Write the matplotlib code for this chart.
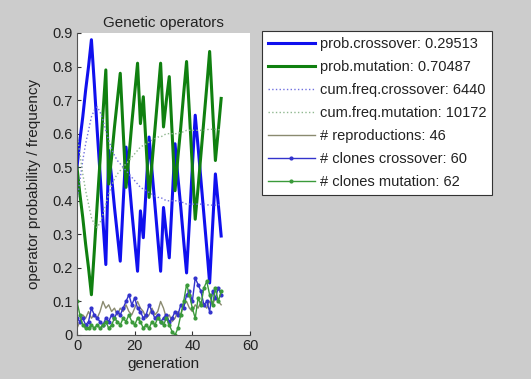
import matplotlib
matplotlib.use("Agg")
import matplotlib.pyplot as plt

generations = list(range(51))

prob_crossover = [0.50, 0.58, 0.65, 0.73, 0.80, 0.88, 0.75, 0.61, 0.48, 0.34,
                  0.21, 0.55, 0.47, 0.38, 0.30, 0.22, 0.39, 0.56, 0.47, 0.37,
                  0.28, 0.19, 0.37, 0.29, 0.44, 0.59, 0.49, 0.39, 0.29, 0.19,
                  0.38, 0.30, 0.23, 0.40, 0.57, 0.47, 0.38, 0.28, 0.185, 0.34,
                  0.50, 0.655, 0.56, 0.46, 0.36, 0.26, 0.155, 0.32, 0.48, 0.39,
                  0.295]
prob_mutation = [0.50, 0.42, 0.35, 0.27, 0.20, 0.12, 0.25, 0.39, 0.52, 0.66,
                 0.79, 0.45, 0.53, 0.62, 0.70, 0.78, 0.61, 0.44, 0.53, 0.63,
                 0.72, 0.81, 0.63, 0.71, 0.56, 0.41, 0.51, 0.61, 0.71, 0.81,
                 0.62, 0.70, 0.77, 0.60, 0.43, 0.53, 0.62, 0.72, 0.815, 0.66,
                 0.50, 0.345, 0.44, 0.54, 0.64, 0.74, 0.845, 0.68, 0.52, 0.61,
                 0.705]
cum_freq_crossover = [0.40, 0.46, 0.52, 0.57, 0.61, 0.65, 0.67, 0.68, 0.665, 0.64,
                      0.61, 0.58, 0.555, 0.535, 0.52, 0.51, 0.50, 0.49, 0.48, 0.47,
                      0.46, 0.45, 0.44, 0.435, 0.43, 0.425, 0.42, 0.415, 0.41, 0.41,
                      0.405, 0.40, 0.40, 0.40, 0.40, 0.40, 0.395, 0.395, 0.39, 0.39,
                      0.39, 0.39, 0.39, 0.39, 0.39, 0.388, 0.387, 0.387, 0.387, 0.388,
                      0.388]
cum_freq_mutation = [0.60, 0.54, 0.48, 0.43, 0.39, 0.35, 0.33, 0.32, 0.335, 0.36,
                     0.39, 0.42, 0.445, 0.465, 0.48, 0.49, 0.50, 0.51, 0.52, 0.53,
                     0.54, 0.55, 0.56, 0.565, 0.57, 0.575, 0.58, 0.585, 0.59, 0.59,
                     0.595, 0.60, 0.60, 0.60, 0.60, 0.60, 0.605, 0.605, 0.61, 0.61,
                     0.61, 0.61, 0.61, 0.61, 0.61, 0.612, 0.613, 0.613, 0.613, 0.612,
                     0.612]
reproductions = [0.02, 0.04, 0.06, 0.05, 0.07, 0.05, 0.06, 0.05, 0.07, 0.10,
                 0.08, 0.09, 0.07, 0.08, 0.06, 0.08, 0.07, 0.09, 0.07, 0.06,
                 0.08, 0.10, 0.08, 0.07, 0.05, 0.06, 0.08, 0.06, 0.07, 0.10,
                 0.08, 0.05, 0.06, 0.04, 0.05, 0.07, 0.06, 0.09, 0.10, 0.08,
                 0.07, 0.09, 0.08, 0.10, 0.09, 0.08, 0.10, 0.09, 0.11, 0.10,
                 0.09]
clones_crossover = [0.05, 0.04, 0.05, 0.03, 0.04, 0.08, 0.06, 0.05, 0.04, 0.03,
                    0.05, 0.04, 0.06, 0.05, 0.07, 0.06, 0.08, 0.10, 0.12, 0.09,
                    0.11, 0.08, 0.07, 0.05, 0.06, 0.09, 0.07, 0.05, 0.06, 0.04,
                    0.05, 0.06, 0.04, 0.05, 0.07, 0.06, 0.09, 0.08, 0.12, 0.13,
                    0.10, 0.17, 0.15, 0.13, 0.09, 0.10, 0.07, 0.13, 0.11, 0.14,
                    0.12]
clones_mutation = [0.10, 0.06, 0.03, 0.02, 0.02, 0.03, 0.02, 0.03, 0.02, 0.03,
                   0.04, 0.02, 0.03, 0.05, 0.04, 0.03, 0.05, 0.04, 0.06, 0.04,
                   0.03, 0.05, 0.04, 0.02, 0.03, 0.02, 0.04, 0.03, 0.05, 0.04,
                   0.03, 0.05, 0.03, 0.01, 0.00, 0.02, 0.06, 0.10, 0.15, 0.12,
                   0.08, 0.05, 0.11, 0.09, 0.14, 0.16, 0.12, 0.09, 0.14, 0.10,
                   0.13]

labels = ["prob.crossover: 0.29513", "prob.mutation: 0.70487",
          "cum.freq.crossover: 6440", "cum.freq.mutation: 10172",
          "# reproductions: 46", "# clones crossover: 60",
          "# clones mutation: 62"]
x_ticks = [0, 20, 40, 60]
y_ticks = [0, 0.1, 0.2, 0.3, 0.4, 0.5, 0.6, 0.7, 0.8, 0.9]
y_tick_labels = ["0", "0.1", "0.2", "0.3", "0.4", "0.5", "0.6", "0.7", "0.8", "0.9"]

plt.rcParams['font.family'] = ['Liberation Sans', 'DejaVu Sans']
plt.rcParams['font.size'] = 11

fig = plt.figure(figsize=(5.31, 3.79), dpi=100, facecolor='#cccccc')
ax = fig.add_axes([77/531, 1-335/379, 173/531, 302/379])
ax.set_facecolor('white')

ax.plot(generations, prob_crossover, color='#1010ee', lw=2.2, label=labels[0])
ax.plot(generations, prob_mutation, color='#108010', lw=2.2, label=labels[1])
ax.plot(generations, cum_freq_crossover, color='#7070e0', lw=1, ls=':', label=labels[2])
ax.plot(generations, cum_freq_mutation, color='#90b890', lw=1, ls=':', label=labels[3])
ax.plot(generations, reproductions, color='#8a8a70', lw=1, label=labels[4])
ax.plot(generations, clones_crossover, color='#3333cc', lw=1, marker='.', ms=4, label=labels[5])
ax.plot(generations, clones_mutation, color='#3a9a3a', lw=1, marker='.', ms=4, label=labels[6])

ax.set_xlim(0, 60)
ax.set_ylim(0, 0.9)
ax.set_xticks(x_ticks)
ax.set_yticks(y_ticks)
ax.set_yticklabels(y_tick_labels)
ax.tick_params(direction='in', length=3, colors='#333333', labelcolor='#222222',
               pad=3, labelsize=10.5)
for s in ['top', 'right']:
    ax.spines[s].set_visible(False)
for s in ['left', 'bottom']:
    ax.spines[s].set_color('#555555')

ax.set_title("Genetic operators", fontsize=11, color='#222222', pad=4)
ax.set_xlabel("generation", color='#222222', labelpad=3)
ax.set_ylabel("operator probability / frequency", color='#222222', labelpad=8)

leg = fig.legend(loc='upper left', bbox_to_anchor=(262/531, 1-31/379),
                 frameon=True, fancybox=False, edgecolor='#333333', facecolor='white',
                 framealpha=1, handlelength=3.2, labelspacing=0.62, borderpad=0.4,
                 handletextpad=0.35, numpoints=1, borderaxespad=0, fontsize=10.5)
leg.get_frame().set_linewidth(0.8)
for t in leg.get_texts():
    t.set_color('#222222')

fig.savefig("out.png", dpi=100, facecolor=fig.get_facecolor())
